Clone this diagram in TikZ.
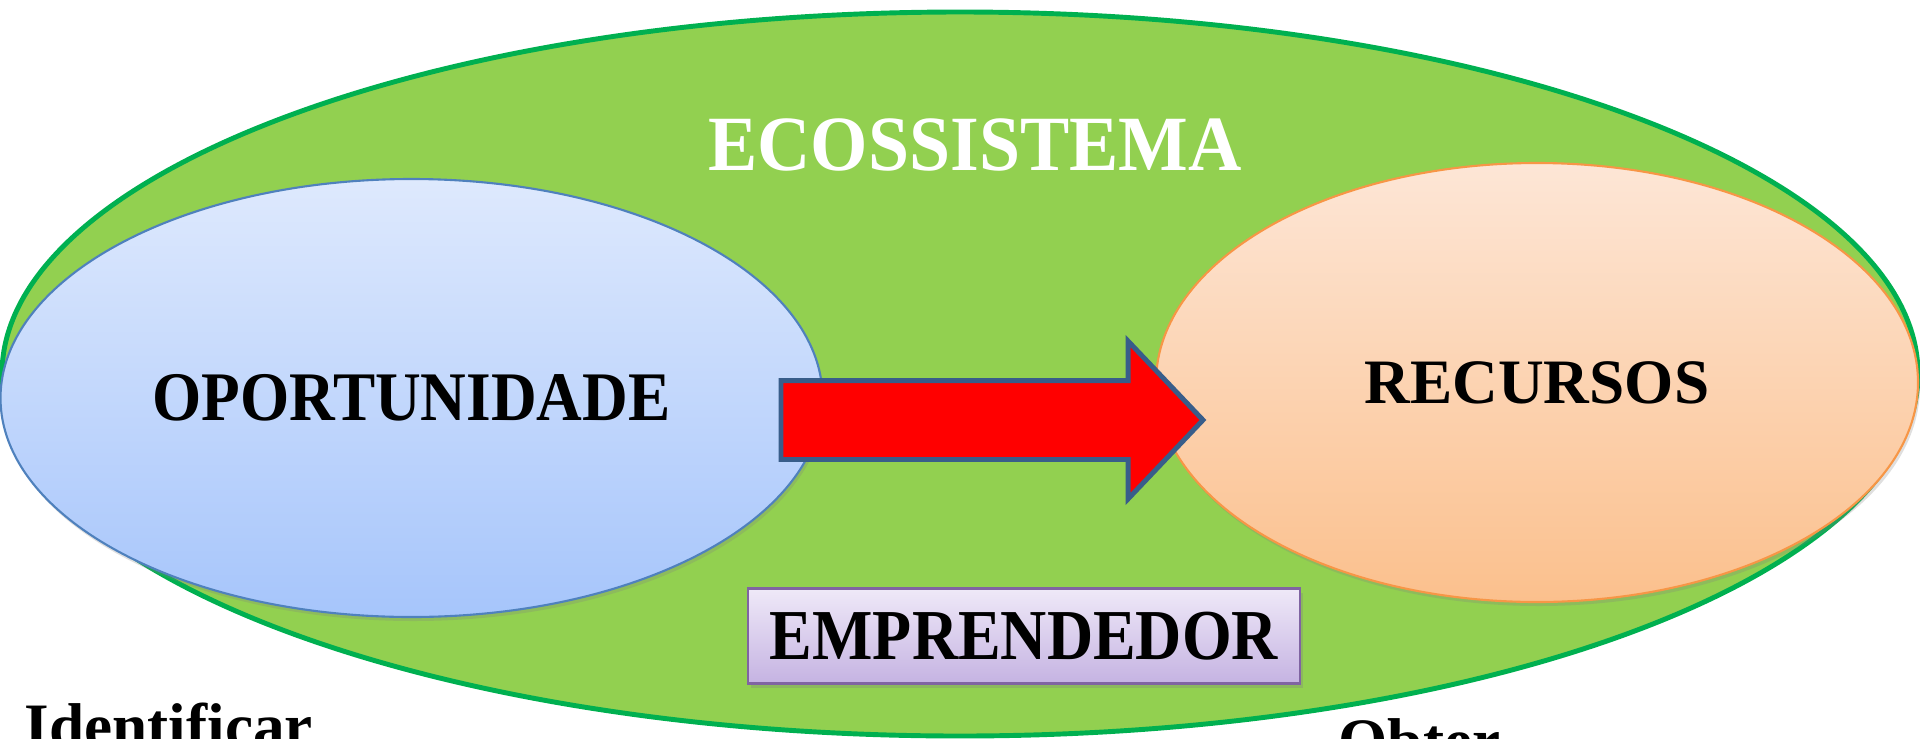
\documentclass[tikz,border=0pt]{standalone}
\usepackage{fontspec}
\setmainfont{Liberation Serif}
\usepackage{xcolor}
\usepackage{graphicx}
\usepackage{tikz}
\usetikzlibrary{shapes.geometric,shapes.arrows,shadows,positioning}

\definecolor{ecoFill}{HTML}{92D050}
\definecolor{ecoLine}{HTML}{00B050}
\definecolor{opTop}{RGB}{222,233,253}
\definecolor{opBot}{RGB}{166,197,251}
\definecolor{opLine}{HTML}{4F81BD}
\definecolor{recTop}{RGB}{253,230,214}
\definecolor{recBot}{RGB}{251,192,141}
\definecolor{recLine}{HTML}{F79646}
\definecolor{arrLine}{HTML}{385D8A}
\definecolor{empTop}{RGB}{239,233,248}
\definecolor{empBot}{RGB}{197,179,226}
\definecolor{empLine}{HTML}{8064A2}

\begin{document}
\begin{tikzpicture}[
	bigfont/.style={font=\bfseries\fontsize{18}{20}\selectfont},
	blob/.style={ellipse, inner sep=0, line width=0.6pt, shading=axis,
		drop shadow={shadow xshift=0.02cm, shadow yshift=-0.04cm, opacity=0.25}},
	]
	\useasboundingbox (0,0) rectangle (19.2,7.38);
	\node[ellipse, fill=ecoFill, draw=ecoLine, line width=1.4pt, inner sep=0,
		minimum width=19.16cm, minimum height=7.24cm] (eco) at (9.6,3.64) {};
	\node[text=white, font=\bfseries\fontsize{21}{23}\selectfont] (ecolabel) at (9.75,5.93) {\scalebox{1}[1.06]{ECOSSISTEMA}};

	\node[blob, draw=opLine, top color=opTop, bottom color=opBot,
		minimum width=8.22cm, minimum height=4.38cm, bigfont] (oport) at (4.115,3.40)
		{\scalebox{1}[1.1]{OPORTUNIDADE}};
	\node[blob, draw=recLine, top color=recTop, bottom color=recBot,
		minimum width=7.62cm, minimum height=4.39cm, bigfont] (recur) at (15.37,3.555) {RECURSOS};

	\node[single arrow, fill=red, draw=arrLine, line width=1.4pt, inner xsep=0, inner ysep=0.37cm,
		minimum height=4.22cm, single arrow head extend=0.395cm, single arrow tip angle=93,
		anchor=tail] (seta) at (7.785,3.18) {};

	\node[draw=empLine, line width=0.6pt, top color=empTop, bottom color=empBot,
		minimum width=5.52cm, minimum height=0.95cm, inner sep=0,
		drop shadow={shadow xshift=0.03cm, shadow yshift=-0.04cm, opacity=0.3},
		font=\bfseries\fontsize{18.2}{20}\selectfont] (empr) at (10.24,1.02) {\scalebox{1}[1.12]{EMPRENDEDOR}};

	\node[bigfont, anchor=base west, inner sep=0] (ident) at (0.24,-0.09) {Identificar};
	\node[bigfont, anchor=base west, inner sep=0] (obter) at (13.38,-0.24) {Obter};
\end{tikzpicture}
\end{document}
